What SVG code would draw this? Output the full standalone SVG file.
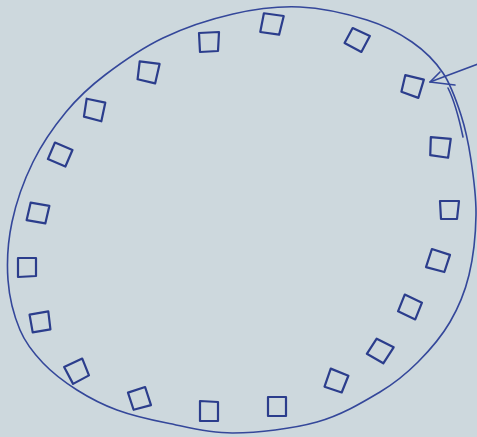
<svg xmlns="http://www.w3.org/2000/svg" width="477" height="437" viewBox="0 0 477 437">
<style>
.bg{fill:#cdd8dd}
.outline{fill:none;stroke:#34479a;stroke-width:1.6;stroke-linecap:round;stroke-linejoin:round}
.sq{fill:none;stroke:#2b3d8c;stroke-width:2.2;stroke-linejoin:round}
.conn{fill:none;stroke:#34479a;stroke-width:1.6;stroke-linecap:round}
</style>
<defs>
<marker id="openV" markerUnits="userSpaceOnUse" viewBox="-2 -4 28 26" markerWidth="28" markerHeight="26" refX="24" refY="12" orient="auto">
<path d="M1.7,0.4 L24,12 L11.1,17.9" fill="none" stroke="#34479a" stroke-width="1.6" stroke-linecap="round" stroke-linejoin="round"/>
</marker>
</defs>
<rect class="bg" x="0" y="0" width="477" height="437"/>
<g id="ring">
<path class="outline" d="M300,7 C322.3,8 348.3,14.2 367,20 C385.7,25.8 399.3,33.2 412,42 C424.7,50.8 434.8,60.8 443,73 C451.2,85.2 456.3,100.5 461,115 C465.7,129.5 468.5,143.3 471,160 C473.5,176.7 476.3,195.8 476,215 C475.7,234.2 473.3,257.2 469,275 C464.7,292.8 458.5,307.5 450,322 C441.5,336.5 429.7,350.3 418,362 C406.3,373.7 396.8,382 380,392 C363.2,402 341.5,415.2 317,422 C292.5,428.8 258,432.8 233,433 C208,433.2 186.3,426.8 167,423 C147.7,419.2 132,415.5 117,410 C102,404.5 89.3,397.8 77,390 C64.7,382.2 52.5,373 43,363 C33.5,353 25.8,343.8 20,330 C14.2,316.2 9.3,298 8,280 C6.7,262 7.8,241.7 12,222 C16.2,202.3 24,180.3 33,162 C42,143.7 54,126.5 66,112 C78,97.5 88.8,87.3 105,75 C121.2,62.7 141.7,48.2 163,38 C184.3,27.8 210.2,19.2 233,14 C255.8,8.8 277.7,6 300,7 Z"/>
<path class="outline" d="M448,88 C454,100 459,118 463,137"/>
</g>
<g id="s1" transform="translate(209,42)"><polygon class="sq" points="-10,-9 10,-10 9,9 -9,10"/></g>
<g id="s2" transform="translate(272,24) rotate(5)"><polygon class="sq" points="-9,-10 11,-9 8,10 -11,9"/></g>
<g id="s3" transform="translate(357,40) rotate(25)"><polygon class="sq" points="-9,-9 10,-9 9,9 -10,8"/></g>
<g id="s4" transform="translate(412,86) rotate(20)"><polygon class="sq" points="-10,-8 9,-10 10,9 -8,9"/></g>
<g id="s5" transform="translate(440,147) rotate(5)"><polygon class="sq" points="-10,-9 10,-9 9,10 -9,9"/></g>
<g id="s6" transform="translate(449,210)"><polygon class="sq" points="-9,-9 10,-9 8,9 -8,9"/></g>
<g id="s7" transform="translate(438,261) rotate(15)"><polygon class="sq" points="-9,-10 10,-9 9,9 -10,9"/></g>
<g id="s8" transform="translate(410,307) rotate(25)"><polygon class="sq" points="-10,-9 9,-9 10,9 -9,9"/></g>
<g id="s9" transform="translate(380,351) rotate(30)"><polygon class="sq" points="-9,-9 10,-10 9,9 -10,9"/></g>
<g id="s10" transform="translate(336,381) rotate(25)"><polygon class="sq" points="-10,-9 9,-10 10,8 -8,10"/></g>
<g id="s11" transform="translate(277,406)"><polygon class="sq" points="-9,-9 9,-9 9,10 -9,10"/></g>
<g id="s12" transform="translate(209,411)"><polygon class="sq" points="-9,-10 9,-9 9,10 -9,10"/></g>
<g id="s13" transform="translate(139,399) rotate(-15)"><polygon class="sq" points="-9,-9 9,-10 10,9 -8,9"/></g>
<g id="s14" transform="translate(77,371) rotate(-25)"><polygon class="sq" points="-10,-9 10,-9 9,9 -9,10"/></g>
<g id="s15" transform="translate(40,322) rotate(-10)"><polygon class="sq" points="-9,-9 10,-9 9,9 -9,9"/></g>
<g id="s16" transform="translate(27,267)"><polygon class="sq" points="-9,-9 9,-9 9,9 -9,10"/></g>
<g id="s17" transform="translate(38,213) rotate(10)"><polygon class="sq" points="-9,-9 10,-9 9,9 -10,9"/></g>
<g id="s18" transform="translate(60,155) rotate(20)"><polygon class="sq" points="-9,-10 10,-9 9,9 -10,8"/></g>
<g id="s19" transform="translate(94,110) rotate(15)"><polygon class="sq" points="-10,-9 9,-10 10,9 -8,9"/></g>
<g id="s20" transform="translate(148,72) rotate(10)"><polygon class="sq" points="-10,-9 10,-10 9,10 -9,9"/></g>
<g id="connectors">
<path class="conn" d="M478,64 L430,82" marker-end="url(#openV)"/>
</g>
</svg>
